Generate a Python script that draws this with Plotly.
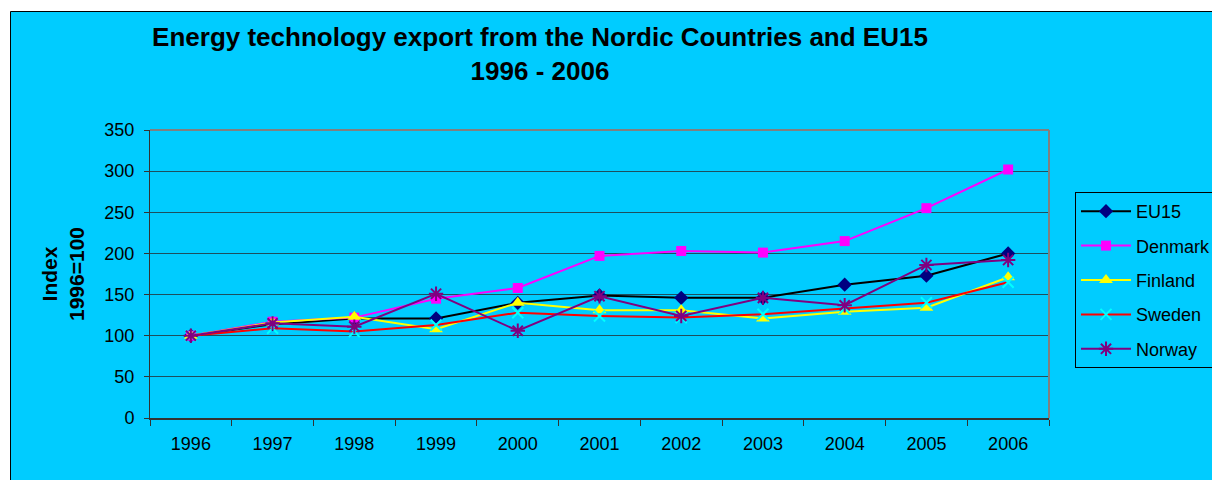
import plotly.graph_objects as go

years = ["1996", "1997", "1998", "1999", "2000", "2001", "2002", "2003", "2004", "2005", "2006"]
eu15 = [100, 114, 121, 121, 140, 149, 146, 146, 162, 173, 200]
denmark = [100, 117, 122, 145, 158, 197, 203, 201, 215, 255, 302]
finland = [100, 116, 123, 108, 140, 131, 131, 121, 129, 134, 171]
sweden = [100, 109, 105, 113, 128, 124, 122, 126, 133, 140, 165]
norway = [100, 115, 111, 151, 106, 148, 124, 146, 137, 186, 192]
y_ticks = [0, 50, 100, 150, 200, 250, 300, 350]

W, H = 1212, 480
ML, MR, MT, MB = 150, 163, 130, 62
PW, PH = W - ML - MR, H - MT - MB


def px(x):
    return (x - ML) / PW


def py(y):
    return (H - MB - y) / PH


FONT = "Liberation Sans, Arial, sans-serif"
CYAN = "#00CCFF"

fig = go.Figure()

series = [
    ("EU15", eu15, "#000000", dict(symbol="diamond", size=11, color="#000080")),
    ("Denmark", denmark, "#FF00FF", dict(symbol="square", size=10, color="#FF00FF")),
    ("Finland", finland, "#FFFF00", dict(symbol="triangle-up", size=12, color="#FFFF00")),
    ("Sweden", sweden, "#FF0000", dict(symbol="x-thin", size=11, color="#00FFFF",
                                       line=dict(width=2, color="#00FFFF"))),
    ("Norway", norway, "#800080", dict(symbol="asterisk", size=12, color="#800080",
                                       line=dict(width=2, color="#800080"))),
]

for name, vals, lc, mk in series:
    fig.add_trace(go.Scatter(
        x=years, y=vals, name=name, mode="lines+markers",
        line=dict(color=lc, width=2), marker=mk, legendgroup=name,
    ))

fig.update_layout(
    width=W, height=H,
    margin=dict(l=ML, r=MR, t=MT, b=MB, autoexpand=False),
    paper_bgcolor="white",
    plot_bgcolor=CYAN,
    font=dict(family=FONT, size=18, color="black"),
    title=dict(
        text="<b>Energy technology export from the Nordic Countries and EU15<br>1996 - 2006</b>",
        x=540 / W, xanchor="center", xref="container",
        y=1 - 46 / H, yanchor="top", yref="container",
        font=dict(family=FONT, size=26, color="black"),
    ),
    showlegend=True,
    legend=dict(
        xref="container", yref="container",
        x=1075 / W, y=1 - 192 / H, xanchor="left", yanchor="top",
        bgcolor=CYAN, bordercolor="black", borderwidth=1,
        font=dict(family=FONT, size=18, color="black"),
        traceorder="grouped", tracegroupgap=8, itemwidth=50,
    ),
    xaxis=dict(
        type="category", categoryorder="array", categoryarray=years,
        range=[-0.5, len(years) - 0.5],
        showgrid=False, zeroline=False,
        showline=True, linecolor="#333333", linewidth=2,
        ticks="outside", ticklen=6, tickcolor="#333333", tickwidth=1,
        tickson="boundaries", ticklabelstandoff=8,
        tickfont=dict(family=FONT, size=18, color="black"),
    ),
    yaxis=dict(
        range=[0, 350], tickvals=y_ticks, ticktext=[str(v) for v in y_ticks],
        showgrid=True, gridcolor="#1d4f5f", gridwidth=1,
        zeroline=False,
        showline=True, linecolor="#333333", linewidth=1,
        ticks="outside", ticklen=5, tickcolor="#333333", tickwidth=1,
        ticklabelstandoff=6,
        tickfont=dict(family=FONT, size=18, color="black"),
    ),
    shapes=[
        dict(type="rect", xref="paper", yref="paper",
             x0=px(10.5), y0=py(11.5), x1=px(1300), y1=py(560),
             fillcolor=CYAN, line=dict(color="black", width=1), layer="below"),
        dict(type="line", xref="paper", yref="paper", x0=0, y0=1, x1=1, y1=1,
             line=dict(color="#808080", width=2), layer="above"),
        dict(type="line", xref="paper", yref="paper", x0=1, y0=0, x1=1, y1=1,
             line=dict(color="#808080", width=2), layer="above"),
    ],
    annotations=[
        dict(text="<b>Index<br>1996=100</b>", xref="paper", yref="paper",
             x=px(63), y=0.5, xanchor="center", yanchor="middle",
             textangle=-90, showarrow=False,
             font=dict(family=FONT, size=21, color="black")),
    ],
)

fig.write_html(
    "out.html",
    config={"displayModeBar": False},
    post_script="document.body.style.margin='0';document.body.style.overflow='hidden';",
)
